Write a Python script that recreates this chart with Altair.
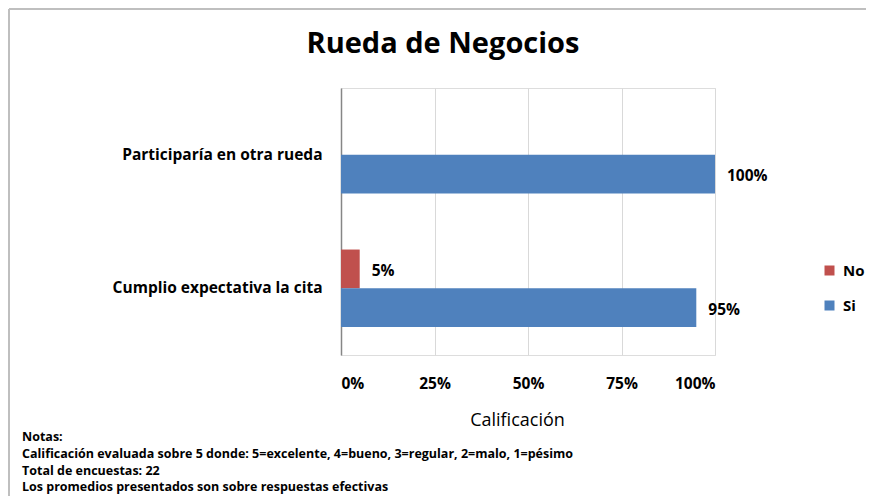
import altair as alt
import pandas as pd

categories = ["Participaría en otra rueda", "Cumplio expectativa la cita"]
series = ["No", "Si"]
no_vals = [0, 5]
si_vals = [100, 95]
colors = ["#C0504D", "#4F81BD"]
x_ticks = [0, 0.25, 0.5, 0.75, 1.0]
title_text = "Rueda de Negocios"
axis_title = "Calificación"
notes = [
    "Notas:",
    "Calificación evaluada sobre 5 donde:  5=excelente, 4=bueno, 3=regular, 2=malo, 1=pésimo",
    "Total de encuestas: 22",
    "Los promedios presentados son sobre respuestas efectivas",
]

rows = []
for c, n, s in zip(categories, no_vals, si_vals):
    rows.append({"cat": c, "serie": "No", "val": n / 100, "lbl": f"{n}%"})
    rows.append({"cat": c, "serie": "Si", "val": s / 100, "lbl": f"{s}%"})
df = pd.DataFrame(rows)

FONT = "Open Sans"

y_enc = alt.Y("cat:N", sort=categories,
              scale=alt.Scale(paddingInner=0.42, paddingOuter=0.21),
              axis=alt.Axis(title=None, labelFont=FONT, labelFontWeight="bold",
                            labelFontSize=15.5, labelColor="black", labelPadding=19,
                            ticks=False, tickSize=0, labelLimit=400,
                            domainColor="#868686", domainWidth=1.5))
yoff = alt.YOffset("serie:N", sort=series, scale=alt.Scale(paddingInner=0, paddingOuter=0))

bars = alt.Chart(df).mark_bar().encode(
    x=alt.X("val:Q", scale=alt.Scale(domain=[0, 1]),
            axis=alt.Axis(values=x_ticks, format=".0%", title=axis_title,
                          labelFont=FONT, labelFontWeight="bold", labelFontSize=15.5,
                          labelColor="black", labelPadding=28, labelBaseline="middle",
                          ticks=False, tickSize=0, domain=False,
                          gridColor="#d9d9d9", gridWidth=1,
                          titleFont=FONT, titleFontWeight="normal", titleFontSize=18,
                          titleColor="black", titleX=176, titleY=65,
                          titleBaseline="middle")),
    y=y_enc,
    yOffset=yoff,
    color=alt.Color("serie:N", sort=series,
                    scale=alt.Scale(domain=series, range=colors),
                    legend=alt.Legend(title=None, orient="none", legendX=481, legendY=175,
                                      symbolType="square", symbolSize=100,
                                      symbolStrokeWidth=0,
                                      labelFont=FONT, labelFontWeight="bold",
                                      labelFontSize=15, labelColor="black",
                                      rowPadding=19, labelOffset=6)),
)

labels = alt.Chart(df).mark_text(
    align="left", baseline="middle", dx=12, dy=2,
    font=FONT, fontWeight="bold", fontSize=15.5, color="black",
).encode(
    x="val:Q", y=alt.Y("cat:N", sort=categories), yOffset=yoff, text="lbl:N",
).transform_filter("datum.val > 0")

one = alt.Data(values=[{}])

title = alt.Chart(one).mark_text(
    text=title_text, font=FONT, fontWeight="bold", fontSize=29,
    align="center", baseline="middle", color="black",
).encode(x=alt.value(102), y=alt.value(-44))

notes_mark = alt.Chart(one).mark_text(
    text=notes, font=FONT, fontWeight="bold", fontSize=12.5, lineHeight=16.8,
    align="left", baseline="middle", color="black",
).encode(x=alt.value(-319), y=alt.value(349))

frame_top = alt.Chart(one).mark_rule(color="#bfbfbf", strokeWidth=2).encode(
    x=alt.value(-332), x2=alt.value(525), y=alt.value(-79))
frame_left = alt.Chart(one).mark_rule(color="#bfbfbf", strokeWidth=2).encode(
    x=alt.value(-332), y=alt.value(-79), y2=alt.value(420))

chart = alt.layer(bars, labels, title, notes_mark, frame_top, frame_left).properties(
    width=374, height=267,
    padding={"left": 333, "top": 80, "right": 151, "bottom": 141},
    autosize=alt.AutoSizeParams(type="none"),
).configure_view(stroke=None).configure(background="white")

chart.save("out.html", embed_options={"renderer": "svg", "actions": False})
